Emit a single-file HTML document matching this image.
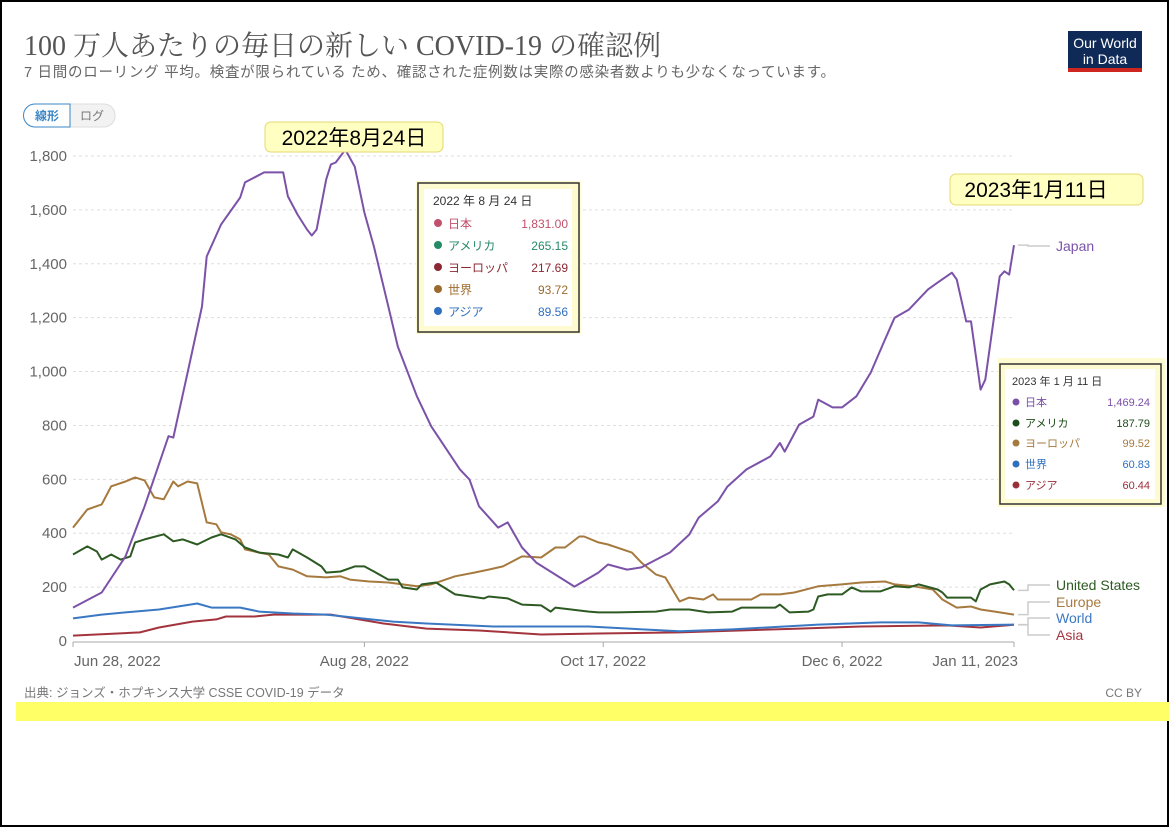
<!DOCTYPE html>
<html><head><meta charset="utf-8">
<style>
html,body{margin:0;padding:0;background:#fff;}
body{width:1169px;height:827px;overflow:hidden;position:relative;font-family:"Liberation Sans","Noto Sans CJK JP",sans-serif;}
#frame{position:absolute;left:0;top:0;width:1165px;height:823px;border:2px solid #000;}
svg text{font-family:"Liberation Sans","Noto Sans CJK JP",sans-serif;}
</style></head>
<body>
<div id="frame"></div>
<svg id="chart" width="1169" height="827" style="position:absolute;left:0;top:0">
  <text x="24" y="55" font-size="28" fill="#555" style="font-family:'Liberation Serif','Noto Serif CJK SC',serif">100 万人あたりの毎日の新しい COVID-19 の確認例</text>
  <text x="24" y="77" font-size="14.5" fill="#666" textLength="811">7 日間のローリング 平均。検査が限られている ため、確認された症例数は実際の感染者数よりも少なくなっています。</text>
  <g>
    <rect x="1068" y="31" width="74" height="37" fill="#0f2a57"/>
    <rect x="1068" y="68" width="74" height="4" fill="#ce261e"/>
    <text x="1105" y="48" font-size="14" fill="#fff" text-anchor="middle">Our World</text>
    <text x="1105" y="64" font-size="14" fill="#fff" text-anchor="middle">in Data</text>
  </g>
  <g>
    <rect x="24" y="104" width="91" height="23" rx="11" fill="#f2f2f2" stroke="#ddd"/>
    <path d="M35,104 H70 V127 H35 A11,11 0 0 1 35,104 Z" fill="#fff" stroke="#3b86c6"/>
    <text x="47" y="120" font-size="12" fill="#3b86c6" text-anchor="middle" font-weight="bold">線形</text>
    <text x="92" y="120" font-size="12" fill="#777" text-anchor="middle">ログ</text>
  </g>
  <g id="grid"></g>
  <g id="xaxis"></g>
  <g id="series"></g>
  <g id="labels"></g>
  <g>
    <rect x="265" y="122" width="178" height="30" rx="6" fill="#ffffc2" stroke="#e6d870"/>
    <text x="354" y="145" font-size="21" fill="#000" text-anchor="middle">2022年8月24日</text>
  </g>
  <g>
    <rect x="950" y="174" width="193" height="31" rx="6" fill="#ffffc2" stroke="#e6d870"/>
    <text x="1036" y="197" font-size="21" fill="#000" text-anchor="middle">2023年1月11日</text>
  </g>
  <g font-size="12">
    <rect x="416" y="181" width="165" height="153" fill="#fffbd0"/>
    <rect x="418" y="183" width="161" height="149" fill="none" stroke="#333" stroke-width="1.5"/>
    <rect x="424" y="189" width="148" height="137" fill="#fff"/>
    <text x="433" y="205" fill="#333">2022 年 8 月 24 日</text>
    <circle cx="438" cy="223" r="4" fill="#c0506b"/><text x="448" y="228" fill="#c0506b">日本</text><text x="568" y="228" fill="#c0506b" text-anchor="end">1,831.00</text>
    <circle cx="438" cy="245" r="4" fill="#258a66"/><text x="448" y="250" fill="#258a66">アメリカ</text><text x="568" y="250" fill="#258a66" text-anchor="end">265.15</text>
    <circle cx="438" cy="267" r="4" fill="#8b2832"/><text x="448" y="272" fill="#8b2832">ヨーロッパ</text><text x="568" y="272" fill="#8b2832" text-anchor="end">217.69</text>
    <circle cx="438" cy="289" r="4" fill="#9b6b2c"/><text x="448" y="294" fill="#9b6b2c">世界</text><text x="568" y="294" fill="#9b6b2c" text-anchor="end">93.72</text>
    <circle cx="438" cy="311" r="4" fill="#2f6fc0"/><text x="448" y="316" fill="#2f6fc0">アジア</text><text x="568" y="316" fill="#2f6fc0" text-anchor="end">89.56</text>
  </g>
  <g font-size="11">
    <rect x="998" y="358" width="167" height="149" fill="#fffbd0"/>
    <rect x="1000" y="364" width="161" height="140" fill="none" stroke="#333" stroke-width="1.5"/>
    <rect x="1005" y="369" width="150" height="130" fill="#fff"/>
    <text x="1012" y="385" fill="#333">2023 年 1 月 11 日</text>
    <circle cx="1016" cy="402" r="3.5" fill="#7a4fa8"/><text x="1025" y="406" fill="#7a4fa8">日本</text><text x="1150" y="406" fill="#7a4fa8" text-anchor="end">1,469.24</text>
    <circle cx="1016" cy="423" r="3.5" fill="#1d4d1a"/><text x="1025" y="427" fill="#1d4d1a">アメリカ</text><text x="1150" y="427" fill="#1d4d1a" text-anchor="end">187.79</text>
    <circle cx="1016" cy="443" r="3.5" fill="#a57a3e"/><text x="1025" y="447" fill="#a57a3e">ヨーロッパ</text><text x="1150" y="447" fill="#a57a3e" text-anchor="end">99.52</text>
    <circle cx="1016" cy="464" r="3.5" fill="#2f6fc0"/><text x="1025" y="468" fill="#2f6fc0">世界</text><text x="1150" y="468" fill="#2f6fc0" text-anchor="end">60.83</text>
    <circle cx="1016" cy="485" r="3.5" fill="#9a2f3a"/><text x="1025" y="489" fill="#9a2f3a">アジア</text><text x="1150" y="489" fill="#9a2f3a" text-anchor="end">60.44</text>
  </g>
  <text x="24" y="697" font-size="12.5" fill="#777">出典: ジョンズ・ホプキンス大学 CSSE COVID-19 データ</text>
  <text x="1142" y="697" font-size="12" fill="#777" text-anchor="end">CC BY</text>
  <rect x="16" y="702" width="1153" height="19" fill="#ffff66"/>
</svg>
<script>
// ---- data (day offsets from 2022-06-28, values per million) ----
const yTicks = [0, 200, 400, 600, 800, 1000, 1200, 1400, 1600, 1800];
const yTickLabels = ["0","200","400","600","800","1,000","1,200","1,400","1,600","1,800"];
const xTickDays = [0, 61, 111, 161, 197];
const xTickLabels = ["Jun 28, 2022","Aug 28, 2022","Oct 17, 2022","Dec 6, 2022","Jan 11, 2023"];

const japanDays = [0,6,11,15,20,21,24,27,28,31,35,36,40,44,45,47,49,50,51,53,54,55,57,59,61,63,66,68,72,75,81,83,85,89,91,94,97,105,110,112,116,119,125,129,131,135,137,141,146,148,149,152,155,156,159,161,164,167,170,172,175,179,181,184,185,187,188,190,191,194,195,196,197];
const japanVals = [124,180,314,500,760,755,996,1242,1427,1546,1646,1702,1739,1739,1650,1583,1527,1505,1527,1713,1769,1776,1823,1760,1590,1464,1242,1093,908,797,637,599,500,421,440,347,291,202,254,284,265,273,329,395,458,518,573,637,685,735,703,803,833,896,867,867,908,996,1119,1200,1230,1305,1330,1367,1342,1186,1186,933,970,1353,1372,1360,1469];

const usDays = [0,3,5,6,8,10,12,13,15,19,21,23,26,29,31,34,36,39,43,45,46,49,52,53,56,59,61,63,66,68,69,72,73,76,80,86,87,91,94,98,100,101,108,110,114,122,125,129,133,138,140,147,148,150,154,155,156,158,161,163,165,169,172,175,177,181,182,183,188,189,190,192,195,196,197];
const usVals = [321,351,332,302,321,302,314,366,377,396,370,377,358,384,396,377,347,328,321,310,340,310,277,254,258,277,277,258,228,228,199,191,210,217,173,158,165,158,135,132,109,124,109,106,106,109,117,117,106,109,124,124,135,106,109,117,165,173,173,199,184,184,203,199,210,191,180,161,161,147,191,210,221,210,188];

const europeDays = [0,3,6,8,11,13,15,17,19,21,22,24,26,28,30,31,33,35,36,39,41,43,46,49,53,56,58,62,66,69,72,75,80,84,87,90,94,98,101,103,106,107,110,112,117,119,122,124,127,129,132,134,135,142,144,148,151,156,161,165,170,172,176,180,182,185,188,190,193,197];
const europeVals = [421,488,507,574,592,607,596,533,526,592,574,592,585,440,433,403,396,377,340,328,321,277,265,240,236,240,228,221,217,210,203,210,240,254,265,277,314,310,347,347,388,388,366,358,328,291,247,236,147,161,154,173,154,154,173,173,180,203,210,217,221,210,203,191,154,124,128,117,109,98];

const worldDays = [0,6,11,18,26,29,35,39,46,53,67,74,88,98,108,127,138,156,169,177,184,197];
const worldVals = [84,98,106,117,139,124,124,109,102,98,72,65,54,54,54,36,43,61,69,69,58,61];

const asiaDays = [0,14,18,25,30,32,38,42,54,65,74,85,98,110,127,152,165,183,190,197];
const asiaVals = [20,32,50,72,80,91,91,98,98,65,46,39,24,28,32,46,54,58,50,60];

// ---- axes ----
const X0 = 73, X1 = 1014, DAYS = 197, Y0 = 641, YTOP = 156, YMAX = 1800;
const xS = d => X0 + d * (X1 - X0) / DAYS;
const yS = v => Y0 - v * (Y0 - YTOP) / YMAX;
const NS = "http://www.w3.org/2000/svg";
function mk(tag, attrs, parent) { const e = document.createElementNS(NS, tag); for (const k in attrs) e.setAttribute(k, attrs[k]); parent.appendChild(e); return e; }

const grid = document.getElementById('grid');
yTicks.forEach((t, i) => {
  if (t > 0) {
    const l = mk('line', {x1: X0, x2: X1, y1: yS(t), y2: yS(t), stroke: '#ddd', 'stroke-dasharray': '3,3'}, grid);
    
    
  }
  const tx = mk('text', {x: 67, y: yS(t) + 5, 'font-size': 15, fill: '#666', 'text-anchor': 'end'}, grid);
  tx.textContent = yTickLabels[i];
  
  
});
const xa = document.getElementById('xaxis');
const base = mk('line', {x1: X0, x2: X1, y1: Y0 + 1, y2: Y0 + 1, stroke: '#aaa', 'stroke-width': 1}, xa);


xTickDays.forEach((d, i) => {
  const tk = mk('line', {x1: xS(d), x2: xS(d), y1: Y0 + 1, y2: Y0 + 6, stroke: '#aaa'}, xa);
  
  
  const anchor = i === 0 ? 'start' : (i === xTickDays.length - 1 ? 'end' : 'middle');
  const tx = mk('text', {x: xS(d) + (i === 0 ? 1 : (i === xTickDays.length - 1 ? 4 : 0)), y: 666, 'font-size': 15, fill: '#666', 'text-anchor': anchor}, xa);
  tx.textContent = xTickLabels[i];
  
  
});

const seriesList = [
  {name: 'asia', days: asiaDays, vals: asiaVals, color: '#a3343d', label: 'Asia', ly: 640},
  {name: 'world', days: worldDays, vals: worldVals, color: '#3a78c3', label: 'World', ly: 623},
  {name: 'europe', days: europeDays, vals: europeVals, color: '#a67a3f', label: 'Europe', ly: 607},
  {name: 'united-states', days: usDays, vals: usVals, color: '#2d5a22', label: 'United States', ly: 590},
  {name: 'japan', days: japanDays, vals: japanVals, color: '#7b52a8', label: 'Japan', ly: 251}
];
const sg = document.getElementById('series'), lg = document.getElementById('labels');
seriesList.forEach(s => {
  const d = s.days.map((dd, i) => (i ? 'L' : 'M') + xS(dd).toFixed(1) + ',' + yS(s.vals[i]).toFixed(1)).join(' ');
  const p = mk('path', {d: d, fill: 'none', stroke: s.color, 'stroke-width': 2, 'stroke-linejoin': 'round'}, sg);
  
  
  const endY = yS(s.vals[s.vals.length - 1]);
  const c = mk('path', {d: `M${X1 + 4},${endY} H${X1 + 14} V${s.ly - 5} H${X1 + 36}`, fill: 'none', stroke: '#ccc', 'stroke-width': 1.5}, lg);
  
  
  const t = mk('text', {x: X1 + 42, y: s.ly, 'font-size': 14, fill: s.color}, lg);
  t.textContent = s.label;
  
  
});
</script>
</body></html>
